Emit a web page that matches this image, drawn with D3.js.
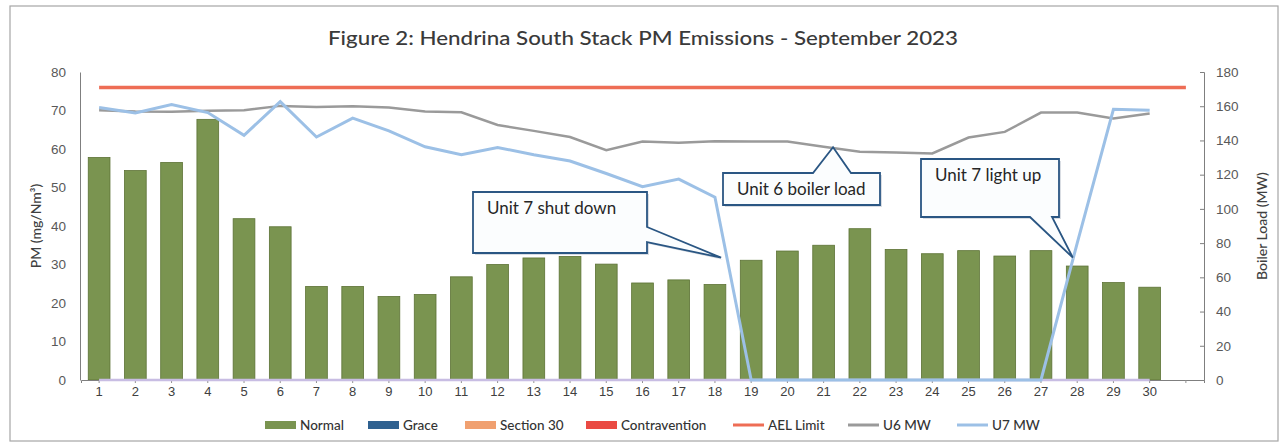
<!DOCTYPE html>
<html>
<head>
<meta charset="utf-8">
<script src="https://cdn.jsdelivr.net/npm/d3@7"></script>
<style>
  body { margin: 0; background: #fff; }
  svg { display: block; font-family: Lato, "Open Sans", sans-serif; }
</style>
</head>
<body>
<svg id="chart"></svg>
<script>
// categories (day of month) - Excel axis has a 31st blank slot
let days = ['1','2','3','4','5','6','7','8','9','10','11','12','13','14','15',
            '16','17','18','19','20','21','22','23','24','25','26','27','28','29','30',''];

// PM (mg/Nm3), all "Normal"
let pmNormal = [57.8, 54.4, 56.5, 67.7, 41.9, 39.8, 24.3, 24.3, 21.7, 22.2,
                26.8, 30.0, 31.7, 32.1, 30.1, 25.2, 26.0, 24.8, 31.1, 33.5,
                35.0, 39.3, 33.9, 32.8, 33.6, 32.2, 33.6, 29.6, 25.3, 24.1];

// boiler loads (MW)
let u6MW = [157.7, 156.9, 156.7, 157.3, 157.7, 160.2, 159.6, 160.0, 159.2, 156.9,
            156.5, 149.0, 145.6, 142.0, 134.3, 139.4, 138.6, 139.6, 139.4, 139.4,
            136.3, 133.4, 133.0, 132.4, 141.7, 145.0, 156.3, 156.3, 152.8, 155.7];
let u7MW = [159.2, 156.0, 161.0, 156.3, 143.0, 162.7, 142.0, 153.0, 145.6, 136.3,
            131.6, 135.9, 131.6, 128.0, 120.7, 113.0, 117.4, 106.8, 0, 0,
            0, 0, 0, 0, 0, 0, 0, 80, 158.2, 157.7];

let aelLimit = 76;

let leftTicks  = [0, 10, 20, 30, 40, 50, 60, 70, 80];
let rightTicks = [0, 20, 40, 60, 80, 100, 120, 140, 160, 180];

let legendItems = [
  {name: 'Normal',        kind: 'bar',  color: '#7a9450'},
  {name: 'Grace',         kind: 'bar',  color: '#2f6190'},
  {name: 'Section 30',    kind: 'bar',  color: '#f0a070'},
  {name: 'Contravention', kind: 'bar',  color: '#ea4a43'},
  {name: 'AEL Limit',     kind: 'line', color: '#ee6d55'},
  {name: 'U6 MW',         kind: 'line', color: '#9a9a9a'},
  {name: 'U7 MW',         kind: 'line', color: '#9cc0e6'}
];

// callouts: tip given in (fractional day, MW), box in pixels
let callouts = [
  {text: 'Unit 7 shut down',   tipDay: 18.17, tipMW: 71.5,  box: [473, 192, 647, 253], side: 'right',  base: [227, 242]},
  {text: 'Unit 6 boiler load', tipDay: 21.26, tipMW: 136,   box: [723, 173, 880, 205], side: 'top',    base: [813, 851]},
  {text: 'Unit 7 light up',    tipDay: 27.88, tipMW: 71.5,  box: [921, 159, 1059, 217], side: 'bottom', base: [1030, 1052]}
];

let width  = 1285,
    height = 446;
let plotLeft = 81, plotRight = 1204, plotTop = 72, plotBottom = 380;
let textColor = '#595959';

let svg = d3.select('#chart')
    .attr('width', width)
    .attr('height', height);

// outer frame
svg.append('rect')
    .attr('x', 10).attr('y', 6)
    .attr('width', 1268).attr('height', 435)
    .attr('fill', 'none')
    .attr('stroke', '#a6a6a6')
    .attr('stroke-width', 1.2);

let xScale = d3.scaleBand()
    .domain(days.map((d, i) => i))
    .range([plotLeft, plotRight])
    .paddingInner(0.4)
    .paddingOuter(0.2);

let step = xScale.step();
let xCenter = i => xScale(i) + xScale.bandwidth() / 2;
let xAt = f => xCenter(0) + (f - 1) * step;

let yLeft = d3.scaleLinear().domain([0, 80]).range([plotBottom, plotTop]);
let yRight = d3.scaleLinear().domain([0, 180]).range([plotBottom, plotTop]);

// title
svg.append('text')
    .attr('x', 643)
    .attr('y', 45)
    .attr('text-anchor', 'middle')
    .attr('font-size', 20)
    .attr('font-weight', 500)
    .attr('fill', '#3a3a3a')
    .attr('textLength', 630)
    .attr('lengthAdjust', 'spacingAndGlyphs')
    .text('Figure 2: Hendrina South Stack PM Emissions -  September 2023');

// left axis
let yAxisL = d3.axisLeft(yLeft).tickValues(leftTicks).tickSize(0).tickPadding(14);
let gL = svg.append('g')
    .attr('transform', `translate(${plotLeft - 1}, 0)`)
    .call(yAxisL);
gL.select('.domain').attr('stroke', '#7f7f7f');
gL.selectAll('text').attr('font-size', 13.5).attr('fill', textColor);

// right axis
let yAxisR = d3.axisRight(yRight).tickValues(rightTicks).tickSize(-4).tickPadding(12);
let gR = svg.append('g')
    .attr('transform', `translate(${plotRight}, 0)`)
    .call(yAxisR);
gR.select('.domain').attr('stroke', '#7f7f7f');
gR.selectAll('line').attr('stroke', '#7f7f7f');
gR.selectAll('text').attr('font-size', 13.5).attr('fill', textColor);

// bars
svg.append('g')
  .selectAll('rect')
  .data(pmNormal)
  .enter()
  .append('rect')
    .attr('x', (d, i) => xScale(i))
    .attr('y', d => yLeft(d))
    .attr('width', xScale.bandwidth())
    .attr('height', d => plotBottom - yLeft(d))
    .attr('fill', '#7a9450')
    .attr('stroke', '#5c7235')
    .attr('stroke-width', 0.8);

// x axis
let xAxis = d3.axisBottom(xScale)
    .tickFormat(i => days[i])
    .tickSize(3)
    .tickPadding(4);
let gX = svg.append('g')
    .attr('transform', `translate(0, ${plotBottom})`)
    .call(xAxis);
gX.select('.domain').attr('stroke', '#7f7f7f');
gX.selectAll('line').attr('stroke', '#8f8f8f');
gX.selectAll('text').attr('font-size', 13).attr('fill', '#404040');

// faint lavender zero series along the baseline
svg.append('line')
    .attr('x1', xCenter(0)).attr('x2', xCenter(pmNormal.length - 1))
    .attr('y1', plotBottom).attr('y2', plotBottom)
    .attr('stroke', '#c8bde3')
    .attr('stroke-width', 2.5);

// AEL limit
svg.append('line')
    .attr('x1', xCenter(0)).attr('x2', xCenter(days.length - 1))
    .attr('y1', yLeft(aelLimit)).attr('y2', yLeft(aelLimit))
    .attr('stroke', '#ee6d55')
    .attr('stroke-width', 3.5);

let mwLine = d3.line()
    .x((d, i) => xCenter(i))
    .y(d => yRight(d));

svg.append('path')
    .datum(u6MW)
    .attr('d', mwLine)
    .attr('fill', 'none')
    .attr('stroke', '#9a9a9a')
    .attr('stroke-width', 2.5);

svg.append('path')
    .datum(u7MW)
    .attr('d', mwLine)
    .attr('fill', 'none')
    .attr('stroke', '#9cc0e6')
    .attr('stroke-width', 3);

// axis titles
svg.append('text')
    .attr('transform', 'rotate(-90)')
    .attr('x', -(plotTop + plotBottom) / 2)
    .attr('y', 41)
    .attr('text-anchor', 'middle')
    .attr('font-size', 14)
    .attr('font-weight', 500)
    .attr('fill', '#404040')
    .text('PM (mg/Nm³)');

svg.append('text')
    .attr('transform', 'rotate(-90)')
    .attr('x', -(plotTop + plotBottom) / 2)
    .attr('y', 1267)
    .attr('text-anchor', 'middle')
    .attr('font-size', 14)
    .attr('font-weight', 500)
    .attr('fill', '#404040')
    .text('Boiler Load (MW)');

// callouts
callouts.forEach(c => {
  let [x0, y0, x1, y1] = c.box;
  let tx = xAt(c.tipDay), ty = yRight(c.tipMW);
  let pts;
  if (c.side === 'right') {
    pts = [[x0, y0], [x1, y0], [x1, c.base[0]], [tx, ty], [x1, c.base[1]], [x1, y1], [x0, y1]];
  } else if (c.side === 'top') {
    pts = [[x0, y0], [c.base[0], y0], [tx, ty], [c.base[1], y0], [x1, y0], [x1, y1], [x0, y1]];
  } else {
    pts = [[x0, y0], [x1, y0], [x1, y1], [c.base[1], y1], [tx, ty], [c.base[0], y1], [x0, y1]];
  }
  let d = 'M' + pts.map(p => p.join(',')).join('L') + 'Z';
  svg.append('path')
      .attr('d', d)
      .attr('transform', 'translate(2,2)')
      .attr('fill', '#d9dde3');
  svg.append('path')
      .attr('d', d)
      .attr('fill', '#fbfdfe')
      .attr('stroke', '#2a5683')
      .attr('stroke-width', 1.8);
  svg.append('text')
      .attr('x', x0 + 14)
      .attr('y', y0 + 22)
      .attr('font-size', 17)
      .attr('fill', '#262626')
      .text(c.text);
});

// legend
let legendX = [265, 368, 465, 586, 733, 848, 957];
let lg = svg.append('g').attr('transform', 'translate(0, 425)');
legendItems.forEach((item, i) => {
  let g = lg.append('g').attr('transform', `translate(${legendX[i]}, 0)`);
  if (item.kind === 'bar') {
    g.append('rect')
        .attr('x', 0).attr('y', -4)
        .attr('width', 31).attr('height', 8)
        .attr('fill', item.color);
  } else {
    g.append('line')
        .attr('x1', 0).attr('x2', 31)
        .attr('y1', 0).attr('y2', 0)
        .attr('stroke', item.color)
        .attr('stroke-width', 3);
  }
  g.append('text')
      .attr('x', 35)
      .attr('y', 0)
      .attr('dy', '0.35em')
      .attr('font-size', 13.5)
      .attr('font-weight', 500)
      .attr('fill', '#333')
      .text(item.name);
});
</script>
</body>
</html>
